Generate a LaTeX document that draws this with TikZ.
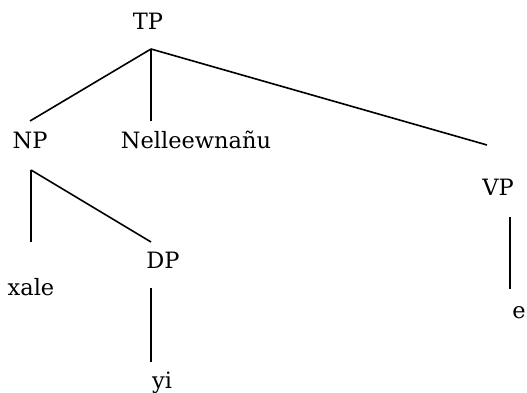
\documentclass[tikz,border=0pt]{standalone}
\usepackage{fontspec}
\setmainfont{DejaVu Serif}
\begin{document}
\begin{tikzpicture}[x=1pt,y=-1pt,
  lbl/.style={anchor=base,inner sep=0pt,font=\fontsize{22.5}{27}\selectfont},
  edge/.style={line width=1.6pt}]
\useasboundingbox (0,0) rectangle (527,393);
% labels
\node[lbl] (TP) at (148,30) {TP};
\node[lbl] (NP) at (30,148) {NP};
\node[lbl] (Nel) at (196,148) {Nelleewnañu};
\node[lbl] (VP) at (498,195) {VP};
\node[lbl] (xale) at (31,295) {xale};
\node[lbl] (DP) at (163,268) {DP};
\node[lbl] (yi) at (162,388) {yi};
\node[lbl] (e) at (519,318) {e};
% connector end points
\coordinate (TPb) at (151,49);
\coordinate (NPt) at (30,121);
\coordinate (Nelt) at (151,121);
\coordinate (VPt) at (487,145);
\coordinate (NPb) at (31,170);
\coordinate (xalet) at (31,242);
\coordinate (DPt) at (151,242);
\coordinate (DPb) at (151,288);
\coordinate (yit) at (151,362);
\coordinate (VPb) at (510,217);
\coordinate (et) at (510,289);
% connectors
\draw[edge] (TPb) -- (NPt);
\draw[edge] (TPb) -- (Nelt);
\draw[edge] (TPb) -- (VPt);
\draw[edge] (NPb) -- (xalet);
\draw[edge] (NPb) -- (DPt);
\draw[edge] (DPb) -- (yit);
\draw[edge] (VPb) -- (et);
\end{tikzpicture}
\end{document}
